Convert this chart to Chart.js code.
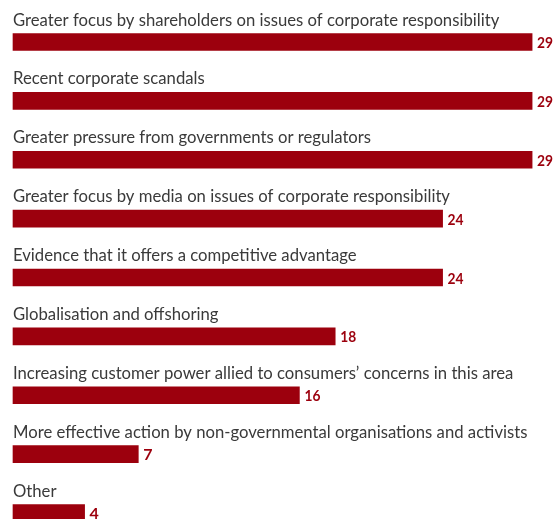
<!DOCTYPE html>
<html>
<head>
<meta charset="utf-8">
<script src="https://cdn.jsdelivr.net/npm/chart.js@4/dist/chart.umd.min.js"></script>
<style>
  html, body { margin: 0; padding: 0; background: #fff; }
  #wrap { width: 554px; height: 519px; }
</style>
</head>
<body>
<div id="wrap"><canvas id="bars"></canvas></div>
<script>
const categories = [
    'Greater focus by shareholders on issues of corporate responsibility',
    'Recent corporate scandals',
    'Greater pressure from governments or regulators',
    'Greater focus by media on issues of corporate responsibility',
    'Evidence that it offers a competitive advantage',
    'Globalisation and offshoring',
    'Increasing customer power allied to consumers\u2019 concerns in this area',
    'More effective action by non-governmental organisations and activists',
    'Other'
];
const values = [29, 29, 29, 24, 24, 18, 16, 7, 4];

const RED = '#9c000d';

// category text above each bar, value at the end of it
const barLabels = {
    id: 'barLabels',
    afterDatasetsDraw(chart) {
        const ctx = chart.ctx;
        const meta = chart.getDatasetMeta(0);
        ctx.save();
        meta.data.forEach((bar, i) => {
            const h = bar.height;
            ctx.textAlign = 'left';
            ctx.textBaseline = 'alphabetic';
            ctx.fillStyle = '#3a3a3a';
            ctx.font = '16.7px Lato';
            ctx.fillText(categories[i], chart.chartArea.left, bar.y - h / 2 - 8);

            // numbers are squeezed a little so "29" still fits at the edge
            ctx.fillStyle = RED;
            ctx.font = 'bold 16px Lato';
            ctx.fillText(String(values[i]), bar.x + 5, bar.y + 6, 16);
        });
        ctx.restore();
    }
};

new Chart(document.getElementById('bars'), {
    type: 'bar',
    data: {
        labels: categories,
        datasets: [{
            data: values,
            backgroundColor: RED,
            borderWidth: 0,
            barThickness: 17,
            clip: false
        }]
    },
    options: {
        indexAxis: 'y',
        responsive: true,
        maintainAspectRatio: false,
        animation: false,
        layout: { padding: { left: 13, right: 4, top: 42, bottom: 6 } },
        scales: {
            x: { display: false, min: 0, max: 30 },
            y: { display: false, offset: false }
        },
        plugins: {
            legend: { display: false },
            tooltip: { enabled: false }
        }
    },
    plugins: [barLabels]
});
</script>
</body>
</html>
